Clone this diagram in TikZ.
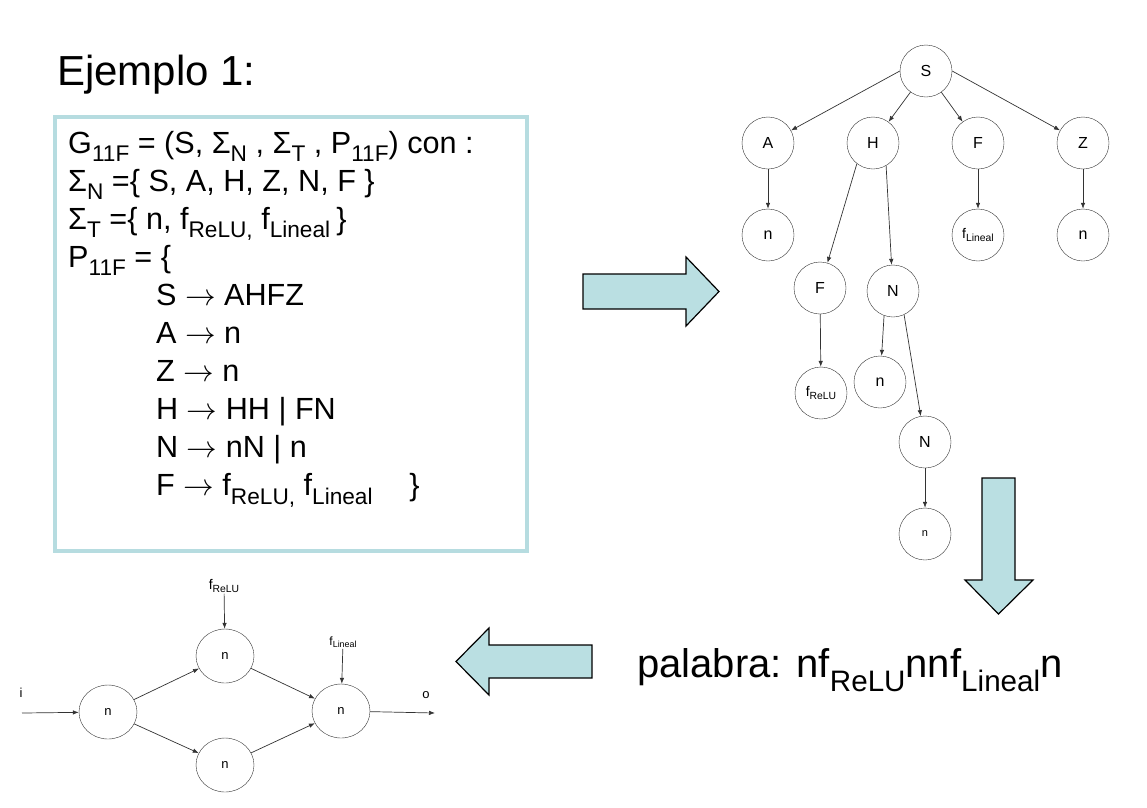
\RequirePackage{fix-cm}
\documentclass[tikz,border=0pt]{standalone}
\usepackage{fontspec}
\setmainfont{Liberation Sans}
\usetikzlibrary{arrows.meta,shapes.geometric}
\definecolor{celeste}{RGB}{186,223,226}
\definecolor{marco}{RGB}{182,220,224}
\makeatletter
\newlength\losize
\newcommand\lo[2][.27em]{\losize=\f@size pt\losize=.74\losize\raisebox{-#1}{\fontsize{\losize}{\losize}\selectfont#2}}
\makeatother
\newcommand\fl{ $\rightarrow$ }
\begin{document}
\begin{tikzpicture}[x=1pt,y=-1pt,
st/.style={circle,draw=black!80,minimum size=52,inner sep=0,font=\fontsize{16}{16}\selectfont},
nn/.style={ellipse,draw=black!80,minimum width=58,minimum height=54,inner sep=0,font=\fontsize{13}{13}\selectfont},
ed/.style={-{Latex[length=6pt,width=4.5pt]},draw=black!80,line width=.7pt},
blk/.style={draw=black,line width=1.2pt,fill=celeste,line join=miter},
gtxt/.style={anchor=base west,inner sep=0,font=\fontsize{30.6}{30.6}\selectfont}]
\useasboundingbox (0,0) rectangle (1147,807);
\node[anchor=base west,inner sep=0,font=\fontsize{42}{42}\selectfont] (titulo) at (57,85) {Ejemplo 1:};
\node[draw=marco,line width=4pt,minimum width=472,minimum height=434,inner sep=0] (gram) at (291,334) {};
\foreach \t [count=\k from 0] in {{G\lo{11F} = (S, Σ\lo{N} , Σ\lo{T} , P\lo{11F}) con :},
  {Σ\lo{N} =\{ S, A, H, Z, N, F \}},{Σ\lo{T} =\{ n, f\lo{ReLU,} f\lo{Lineal }\}},{P\lo{11F} = \{},
  {\hspace*{88pt}S\fl AHFZ},{\hspace*{88pt}A\fl n},{\hspace*{88pt}Z\fl n},{\hspace*{88pt}H\fl HH | FN},
  {\hspace*{88pt}N\fl nN | n},{\hspace*{88pt}F\fl f\lo{ReLU,} f\lo{Lineal}\hspace{1.2em}\}}}
  \node[gtxt] (g\k) at (68,153+38.1*\k) {\t};
% flechas grandes
\draw[blk] (583,274)--(686,274)--(686,257)--(719,291.5)--(686,326)--(686,309)--(583,309)--cycle;
\draw[blk] (982,478)--(1015,478)--(1015,580)--(1033,580)--(998.5,614)--(965,580)--(982,580)--cycle;
\draw[blk] (592,645)--(489,645)--(489,628)--(456,661.5)--(489,695)--(489,678)--(592,678)--cycle;
% arbol de derivacion
\node[st] (S) at (926,71) {S};
\node[st] (A) at (768,143) {A};
\node[st] (H) at (873,143) {H};
\node[st] (F) at (978,143) {F};
\node[st] (Z) at (1083,143) {Z};
\node[st] (nA) at (768,235) {n};
\node[st,font=\fontsize{14}{14}\selectfont] (fL) at (978,235) {f\lo[.2em]{Lineal}};
\node[st] (nZ) at (1083,235) {n};
\node[st] (F2) at (820,288) {F};
\node[st] (N1) at (893,291) {N};
\node[st,font=\fontsize{14}{14}\selectfont] (fR) at (821,393) {f\lo[.2em]{ReLU}};
\node[st] (n1) at (880,382) {n};
\node[st] (N2) at (925,442) {N};
\node[st,font=\fontsize{11}{11}\selectfont] (n2) at (925,534) {n};
\draw[ed] (S.west)--(A);\draw[ed] (S)--(H);\draw[ed] (S)--(F);\draw[ed] (S.east)--(Z);
\draw[ed] (A)--(nA);\draw[ed] (F)--(fL);\draw[ed] (Z)--(nZ);
\draw[ed] (H.232)--(F2);\draw[ed] (H.300)--(N1);\draw[ed] (F2)--(fR);
\draw[ed] (N1.250)--(n1);\draw[ed] (N1.295)--(N2);\draw[ed] (N2)--(n2);
\node[font=\fontsize{40}{40}\selectfont,anchor=base west,inner sep=0] (palabra) at (637,677) {palabra: nf\lo[.37em]{ReLU}nnf\lo[.37em]{Lineal}n};
% red resultante
\node[nn] (n0) at (108,712) {n};
\node[nn] (nu) at (225,656) {n};
\node[nn] (nd) at (225,765) {n};
\node[nn] (no) at (341,711) {n};
\coordinate (in) at (22,713);\coordinate (out) at (435,713);
\node[font=\fontsize{13}{13}\selectfont] (li) at (21,693) {i};
\node[font=\fontsize{13}{13}\selectfont] (lo) at (426,695) {o};
\node[font=\fontsize{14}{14}\selectfont,inner sep=1pt] (fr) at (224,586) {f\lo[.2em]{ReLU}};
\node[font=\fontsize{12}{12}\selectfont,inner sep=1pt] (fl) at (343,642) {f\lo[.2em]{Lineal}};
\draw[ed] (in)--(n0);\draw[ed] (no)--(out);
\draw[ed] (n0)--(nu);\draw[ed] (n0)--(nd);\draw[ed] (nu)--(no);\draw[ed] (nd)--(no);
\draw[ed] (fr)--(nu);\draw[ed] (fl)--(no);
\end{tikzpicture}
\end{document}
